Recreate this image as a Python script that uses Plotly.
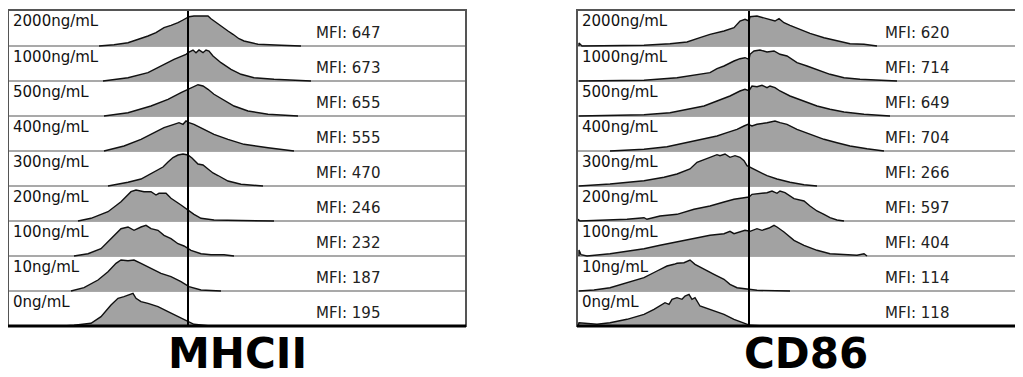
import plotly.graph_objects as go

# ---------------- data ----------------
CONCENTRATIONS = ["2000ng/mL", "1000ng/mL", "500ng/mL", "400ng/mL", "300ng/mL",
                  "200ng/mL", "100ng/mL", "10ng/mL", "0ng/mL"]
MARKERS = ["MHCII", "CD86"]
MFI_MHCII = [647, 673, 655, 555, 470, 246, 232, 187, 195]
MFI_CD86 = [620, 714, 649, 704, 266, 597, 404, 114, 118]
GATE_MHCII = 180   # fluorescence channel of the gate line
GATE_CD86 = 172

# MHCII histograms: fluorescence channel (x) and scaled counts (h)
MHCII_2000_X = [91, 106, 120, 133, 140, 148, 156, 163, 170, 175, 178, 181, 186, 193, 200, 203, 206, 215, 220, 225, 231, 236, 243, 250, 273, 293]
MHCII_2000_H = [0, 1.3, 3.3, 7.3, 10, 13.3, 18.3, 20.7, 23.3, 26, 27.3, 29.3, 30, 30.3, 30, 27.3, 25, 18.3, 15, 11.7, 7.3, 5, 3.3, 1.7, 0.7, 0]
MHCII_1000_X = [95, 120, 140, 153, 166, 178, 181, 185, 188, 191, 195, 198, 201, 205, 213, 223, 233, 246, 266, 303]
MHCII_1000_H = [0, 3.3, 8.3, 15, 21.7, 26.7, 29, 31, 28.3, 31, 28.3, 31, 30, 25, 18.3, 11.7, 6.7, 3.3, 1.7, 0]
MHCII_500_X = [96, 120, 143, 160, 173, 180, 185, 190, 195, 200, 206, 215, 226, 240, 260, 290]
MHCII_500_H = [0, 3.3, 10, 16.7, 23.3, 26.7, 29.3, 31.3, 30, 26.7, 21.7, 16.7, 10, 5, 1.7, 0]
MHCII_400_X = [96, 116, 133, 146, 156, 166, 171, 175, 178, 181, 186, 196, 206, 220, 236, 260, 286]
MHCII_400_H = [0, 5, 11.7, 18.3, 23.3, 26.7, 28.3, 26.7, 30, 28.3, 26.7, 21.7, 16.7, 11.7, 6.7, 3.3, 0]
MHCII_300_X = [100, 110, 120, 133, 146, 155, 160, 165, 170, 175, 180, 184, 190, 195, 200, 205, 210, 220, 233, 246, 255]
MHCII_300_H = [0, 1.5, 3.7, 7, 13.7, 19, 24, 28.5, 31, 32, 31, 28, 22, 21, 17, 13, 10.5, 5, 1.7, 0.5, 0]
MHCII_200_X = [70, 83, 100, 113, 123, 128, 136, 143, 148, 151, 158, 163, 173, 180, 186, 193, 206, 233, 266]
MHCII_200_H = [0, 2.7, 9.3, 19.3, 29.3, 31, 29.3, 29.3, 26, 27.7, 27.7, 22.7, 16, 11, 6.7, 2.7, 1, 0.5, 0]
MHCII_100_X = [66, 80, 93, 103, 113, 120, 126, 133, 138, 143, 150, 156, 163, 170, 176, 183, 193, 203, 216, 226]
MHCII_100_H = [0, 2.3, 7.3, 17.3, 27.3, 29, 25.7, 29, 30.7, 27.3, 25.7, 20.7, 17.3, 12.3, 10, 5.7, 2.3, 1.3, 1.3, 0]
MHCII_10_X = [63, 76, 90, 100, 108, 113, 120, 126, 133, 143, 153, 163, 173, 181, 193, 213]
MHCII_10_H = [0, 3.3, 11, 19.3, 27.7, 31, 30.3, 31, 27.7, 22.7, 17.7, 14.3, 9.3, 4.3, 1, 0]
MHCII_0_X = [55, 66, 83, 93, 103, 110, 116, 121, 125, 128, 133, 140, 150, 160, 170, 180, 186, 200, 220]
MHCII_0_H = [0, 0.7, 2.7, 9.3, 21, 27.7, 29.3, 31, 32.7, 27.7, 24.3, 22.7, 19.3, 14.3, 9.3, 4.3, 1.7, 0.3, 0]

# CD86 histograms
CD86_2000_X = [2, 5, 33, 67, 93, 110, 123, 133, 147, 157, 163, 168, 172, 173, 180, 187, 193, 198, 202, 207, 213, 223, 233, 247, 260, 273, 287, 300]
CD86_2000_H = [3, 0, 0, 0.7, 2.3, 4, 8.3, 11.7, 15, 18.3, 25, 26.7, 25, 29.3, 30, 28.3, 26.7, 25, 27.3, 23.3, 20.7, 16.7, 12.7, 8.3, 5, 2.3, 1.7, 0]
CD86_1000_X = [2, 33, 67, 100, 120, 133, 140, 147, 157, 163, 168, 172, 173, 177, 183, 190, 197, 203, 210, 220, 230, 240, 253, 267, 283, 320]
CD86_1000_H = [0, 0, 0.7, 3.3, 6.7, 8.3, 12.3, 15, 20, 22.3, 23.3, 21.7, 26.7, 30, 31, 29, 30, 26.7, 25, 18.3, 15, 11.7, 6.7, 3.3, 1.7, 0]
CD86_500_X = [2, 50, 67, 93, 110, 127, 140, 153, 163, 168, 172, 175, 180, 185, 190, 193, 198, 203, 213, 227, 240, 253, 267, 287, 313]
CD86_500_H = [0, 0.7, 1.3, 3.3, 6.7, 10, 15, 20, 25, 26.7, 25.3, 30, 29.3, 30.7, 28.3, 30, 28.3, 25, 20, 15, 10, 6.7, 4, 1.7, 0]
CD86_400_X = [33, 67, 90, 110, 127, 140, 150, 160, 167, 171, 175, 180, 190, 198, 203, 210, 220, 233, 247, 260, 273, 290, 307]
CD86_400_H = [0, 1.7, 4.3, 8.3, 11.7, 15, 18.3, 21.7, 25, 26.7, 25, 26.7, 28.3, 30, 28.3, 26.7, 21.7, 16.7, 11.7, 8.3, 5, 2.3, 0]
CD86_300_X = [2, 33, 67, 87, 100, 113, 120, 133, 140, 143, 148, 153, 158, 163, 167, 170, 173, 180, 190, 200, 213, 227, 240]
CD86_300_H = [0, 2, 5.3, 8.7, 12, 17, 23.7, 28.7, 31.3, 30.3, 32, 28.7, 30.3, 28.7, 25.3, 20.3, 18.7, 15.3, 10.3, 7, 3.7, 1.3, 0]
CD86_200_X = [1, 3, 33, 50, 67, 70, 83, 100, 117, 133, 147, 157, 167, 172, 175, 182, 190, 195, 200, 203, 208, 217, 227, 233, 240, 247, 253, 260, 267]
CD86_200_H = [1.7, 0, 1, 1.7, 3.3, 1.7, 5, 6.7, 11.7, 15, 19, 21.7, 23.3, 24, 26.7, 27.7, 28.3, 30, 27.7, 30, 28.3, 22.3, 20, 15, 10, 6.7, 3.3, 1, 0]
CD86_100_X = [2, 4, 10, 33, 50, 67, 83, 100, 117, 133, 147, 153, 157, 163, 168, 173, 180, 185, 192, 197, 200, 207, 217, 227, 240, 253, 267, 280, 287, 290]
CD86_100_H = [6, 1.3, 0, 2.3, 4.7, 7.3, 10.7, 14, 17.3, 20.7, 22.3, 24.7, 22.3, 24, 25.7, 24.7, 27.3, 25.7, 28, 30.7, 29, 24, 15.7, 10.7, 5.7, 2.3, 1.3, 0.7, 2.3, 0]
CD86_10_X = [2, 17, 33, 50, 67, 80, 90, 97, 100, 107, 113, 118, 127, 137, 147, 153, 160, 170, 180, 213]
CD86_10_H = [0, 1, 3.3, 8.3, 13.3, 20, 25, 26.7, 27.7, 28.3, 31, 26.7, 21.7, 16.7, 11.7, 6.7, 3.3, 1.7, 0.7, 0]
CD86_0_X = [1, 2, 20, 33, 50, 67, 77, 83, 88, 92, 95, 100, 105, 108, 112, 115, 118, 123, 133, 147, 157, 167, 173, 187]
CD86_0_H = [0, 3.3, 1.7, 3.3, 6.7, 11.7, 16.7, 20, 23.3, 21.7, 26.7, 28.3, 26.7, 30, 31.7, 26.7, 28.3, 20, 16.7, 11.7, 6.7, 2.7, 0.7, 0]

MHCII_X = [MHCII_2000_X, MHCII_1000_X, MHCII_500_X, MHCII_400_X, MHCII_300_X,
           MHCII_200_X, MHCII_100_X, MHCII_10_X, MHCII_0_X]
MHCII_H = [MHCII_2000_H, MHCII_1000_H, MHCII_500_H, MHCII_400_H, MHCII_300_H,
           MHCII_200_H, MHCII_100_H, MHCII_10_H, MHCII_0_H]
CD86_X = [CD86_2000_X, CD86_1000_X, CD86_500_X, CD86_400_X, CD86_300_X,
          CD86_200_X, CD86_100_X, CD86_10_X, CD86_0_X]
CD86_H = [CD86_2000_H, CD86_1000_H, CD86_500_H, CD86_400_H, CD86_300_H,
          CD86_200_H, CD86_100_H, CD86_10_H, CD86_0_H]

# ---------------- layout constants ----------------
PAGE_W, PAGE_H = 1023, 377
OFF = 8                      # default page body margin
W, H = PAGE_W - OFF, PAGE_H - OFF
ROW = 35
NROW = len(CONCENTRATIONS)
YMAX = 316
FILL = "#a2a2a2"
FONT = "DejaVu Sans"
TOP_PX, BOTTOM_PX = 10, 326


def fx(px):
    return min(1.0, max(0.0, (px - OFF) / W))


def fy(py):
    return min(1.0, max(0.0, 1 - (py - OFF) / H))


panels = [
    dict(name=MARKERS[0], xs=MHCII_X, hs=MHCII_H, mfi=MFI_MHCII, gate=GATE_MHCII,
         left=8, right=466, title_x=237, ax="x", ay="y", xkey="xaxis", ykey="yaxis"),
    dict(name=MARKERS[1], xs=CD86_X, hs=CD86_H, mfi=MFI_CD86, gate=GATE_CD86,
         left=577, right=1021, title_x=806, ax="x2", ay="y2", xkey="xaxis2", ykey="yaxis2"),
]

fig = go.Figure()
shapes = []
annotations = []
ydom = [fy(BOTTOM_PX), fy(TOP_PX)]

for p in panels:
    width = p["right"] - p["left"]
    for i in range(NROW):
        base = ROW * (NROW - 1 - i)
        xs = p["xs"][i]
        hs = p["hs"][i]
        px = [xs[0]] + list(xs) + [xs[-1]]
        py = [base] + [base + v for v in hs] + [base]
        fig.add_trace(go.Scatter(
            x=px, y=py, xaxis=p["ax"], yaxis=p["ay"], mode="lines",
            fill="toself", fillcolor=FILL,
            line=dict(color="#111111", width=1.4),
            hoverinfo="skip", showlegend=False))
        if i < NROW - 1:
            shapes.append(dict(type="line", xref=p["ax"], yref=p["ay"],
                               x0=0, x1=width, y0=base, y1=base,
                               line=dict(color="#8c8c8c", width=1.3), layer="below"))
        top = YMAX if i == 0 else base + ROW
        annotations.append(dict(
            xref=p["ax"], yref=p["ay"], x=0, y=top, xanchor="left", yanchor="top",
            xshift=3, yshift=0, showarrow=False, text=CONCENTRATIONS[i],
            font=dict(family=FONT, size=15, color="#111111")))
        annotations.append(dict(
            xref=p["ax"], yref=p["ay"], x=306, y=base, xanchor="left", yanchor="bottom",
            yshift=2, showarrow=False, text=f"MFI: {p['mfi'][i]}",
            font=dict(family=FONT, size=15, color="#222222")))
    shapes.append(dict(type="line", xref=p["ax"], yref=p["ay"],
                       x0=p["gate"], x1=p["gate"], y0=0, y1=YMAX,
                       line=dict(color="#000000", width=2)))
    shapes.append(dict(type="rect", xref=p["ax"] + " domain", yref=p["ay"] + " domain",
                       x0=0, x1=1, y0=0, y1=1, line=dict(color="#555555", width=2)))
    shapes.append(dict(type="line", xref=p["ax"] + " domain", yref=p["ay"] + " domain",
                       x0=0, x1=1, y0=0, y1=0, line=dict(color="#000000", width=3)))
    annotations.append(dict(
        xref="paper", yref="paper", x=fx(p["title_x"]), y=0,
        xanchor="center", yanchor="bottom", yshift=-3, showarrow=False,
        text=f"<b>{p['name']}</b>",
        font=dict(family=FONT, size=42, color="#000000")))

    fig.layout[p["xkey"]] = dict(domain=[fx(p["left"]), fx(p["right"])], range=[0, width],
                                 visible=False, fixedrange=True, anchor=p["ay"])
    fig.layout[p["ykey"]] = dict(domain=ydom, range=[0, YMAX], visible=False,
                                 fixedrange=True, anchor=p["ax"])

fig.update_layout(
    width=W, height=H,
    margin=dict(l=0, r=0, t=0, b=0),
    paper_bgcolor="white", plot_bgcolor="white",
    shapes=shapes, annotations=annotations,
    showlegend=False,
)

fig.write_html("out.html", config={"displayModeBar": False})
